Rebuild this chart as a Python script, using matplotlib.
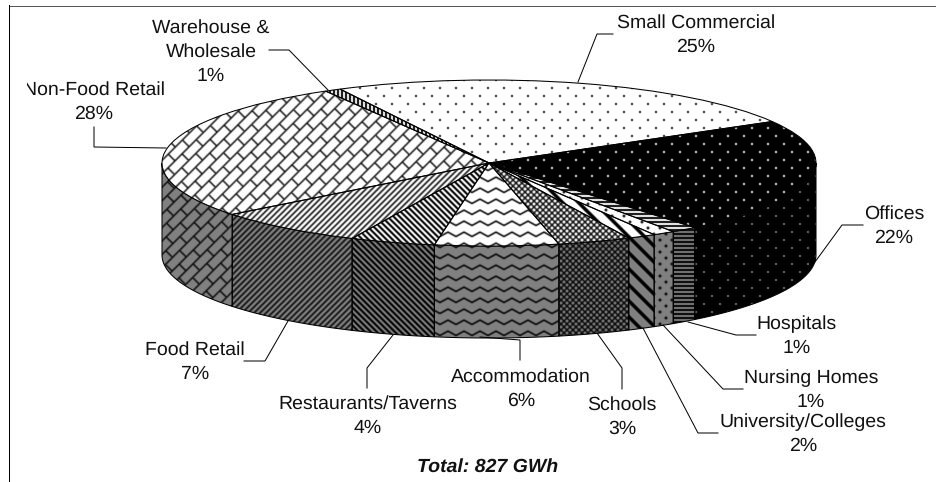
import numpy as np
import matplotlib
matplotlib.use('Agg')
import matplotlib.pyplot as plt
from matplotlib.patches import Polygon
from matplotlib.transforms import Affine2D, Bbox, TransformedBbox

categories = ['Small Commercial', 'Offices', 'Hospitals', 'Nursing Homes', 'University/Colleges',
              'Schools', 'Accommodation', 'Restaurants/Taverns', 'Food Retail', 'Non-Food Retail',
              'Warehouse &\nWholesale']
label_pct = [25, 22, 1, 1, 2, 3, 6, 4, 7, 28, 1]
# slice sizes as they are drawn in the picture (the 3d view squeezes them a bit)
drawn_pct = [24.2, 22.5, 1.3, 1.1, 1.4, 3.6, 6.1, 4.2, 7.5, 27.3, 0.8]
total_text = 'Total: 827 GWh'

W, H = 937, 482
CX, CY, RX, RY, DEPTH = 489, H - 163, 327, 83, 92

plt.rcParams['font.family'] = ['Liberation Sans', 'DejaVu Sans']
plt.rcParams['text.hinting'] = 'none'

fig = plt.figure(figsize=(W / 100, H / 100), dpi=100)
ax = fig.add_axes([0, 0, 1, 1])

xx, yy = np.meshgrid(np.arange(W) + 0.5, np.arange(H) + 0.5)


def stripes(u, period, width):
    d = np.abs((u % period) - period / 2)
    return np.clip(width / 2 - d + 0.5, 0, 1)


def dots(period, r):
    d1 = np.hypot((xx % period) - period / 2, (yy % period) - period / 2)
    d2 = np.hypot(((xx + period / 2) % period) - period / 2, ((yy + period / 2) % period) - period / 2)
    return np.clip(r - np.minimum(d1, d2) + 0.5, 0, 1)


def bricks(pv, pu):
    u = (xx - yy) / np.sqrt(2)
    v = (xx + yy) / np.sqrt(2)
    row = np.floor(v / pv)
    long_lines = stripes(v + pv / 2, pv, 1.4)
    short_lines = stripes(u + row * pu / 2, pu, 1.4)
    return np.maximum(long_lines, short_lines)


def wave(period, spacing, amp, width):
    tri = np.abs((xx % period) / period * 2 - 1) * amp * 2
    return stripes(yy + tri, spacing, width)


def soften(tex):
    # the reference is a slightly resampled bitmap, so nothing in it is crisp
    out = tex * 0.5
    for axis in (0, 1):
        out = out + 0.125 * (np.roll(tex, 1, axis) + np.roll(tex, -1, axis))
    return out


textures = [
    dots(16, 1.1),
    dots(16, 1.1),
    stripes(yy, 4, 2),
    dots(12, 1.4),
    stripes(xx - yy, 16, 5),
    np.maximum(stripes(xx + yy, 6, 2), stripes(xx - yy, 6, 2)),
    wave(16, 11, 2.2, 1.8),
    stripes(xx - yy, 6, 3),
    stripes(xx + yy, 6, 2.2),
    bricks(9.5, 20),
    stripes(xx, 4, 2),
]
textures = [soften(t) for t in textures]


def shade(tex, bg, ink):
    return np.clip(bg + (ink - bg) * tex, 0, 1)


# pie on a unit circle, squashed afterwards into the tilted ellipse
wedges, _ = ax.pie(drawn_pct, startangle=117.1, counterclock=False, radius=1)
squash = Affine2D().scale(RX, RY).translate(CX, CY) + ax.transData

for i, w in enumerate(wedges):
    top_bg, top_ink = (0.0, 1.0) if i == 1 else (1.0, 0.0)
    side_bg, side_ink = (0.0, 0.5) if i == 1 else (0.5, 0.0)

    # side wall, only the part on the front half of the ellipse
    for k in (-1, 0, 1):
        lo = max(w.theta1 + 360 * k, 180)
        hi = min(w.theta2 + 360 * k, 360)
        if hi <= lo:
            continue
        t = np.radians(np.linspace(lo, hi, 60))
        ex = CX + RX * np.cos(t)
        ey = CY + RY * np.sin(t)
        pts = np.r_[np.c_[ex, ey], np.c_[ex[::-1], ey[::-1] - DEPTH]]
        wall = Polygon(pts, closed=True, fc='none', ec='black', lw=0.75, zorder=4)
        ax.add_patch(wall)
        im = ax.imshow(shade(textures[i], side_bg, side_ink), cmap='gray', vmin=0, vmax=1,
                       extent=(0, W, 0, H), origin='upper', aspect='auto', zorder=3,
                       interpolation='nearest')
        im.set_clip_path(wall)

    # top face
    w.set_transform(squash)
    w.set_facecolor('none')
    w.set_edgecolor('black')
    w.set_linewidth(0.75)
    w.set_zorder(6)
    im = ax.imshow(shade(textures[i], top_bg, top_ink), cmap='gray', vmin=0, vmax=1,
                   extent=(0, W, 0, H), origin='upper', aspect='auto', zorder=5,
                   interpolation='nearest')
    im.set_clip_path(w.get_path(), w.get_transform())

ax.set_aspect('auto')
ax.set_xlim(0, W)
ax.set_ylim(0, H)
ax.axis('off')

# label centres and leader lines, in picture pixels from the top left
label_xy = [(696, 35), (894, 226), (797, 336), (811, 390), (803, 434), (622, 417),
            (521, 389), (368, 416), (195, 362), (94, 102), (211, 52)]
leaders = [
    [(613, 34), (597, 34), (578, 82)],
    [(863, 225), (842, 225), (815, 262)],
    [(756, 335), (736, 335), (688, 322)],
    [(743, 389), (723, 389), (663, 325)],
    [(718, 433), (698, 433), (643, 328)],
    [(622, 389), (622, 368), (597, 333)],
    [(520, 360), (520, 340), (480, 337)],
    [(367, 388), (367, 368), (393, 335)],
    [(244, 361), (265, 361), (288, 321)],
    [(94, 127), (94, 147), (166, 148)],
    [(269, 50), (289, 50), (328, 90)],
]

for name, pct, (tx, ty), line in zip(categories, label_pct, label_xy, leaders):
    label = ax.text(tx, H - ty, f'{name}\n{pct}%', ha='center', va='center', fontsize=14,
                    color='#111111', linespacing=1.43, zorder=8)
    # the N of Non-Food Retail is cut off on the left in the original chart
    label.set_clip_box(TransformedBbox(Bbox([[27, 0], [W, H]]), ax.transData))
    label.set_clip_on(True)
    lx, ly = zip(*line)
    ax.plot(lx, [H - y for y in ly], color='black', lw=0.72, zorder=7, solid_joinstyle='miter')

ax.text(488, H - 467, total_text, ha='center', va='center', fontsize=14,
        fontweight='bold', fontstyle='italic', color='#111111', zorder=8)

# frame: only the top and the left edge show in the picture
ax.plot([9, W], [H - 5.5, H - 5.5], color='#555555', lw=0.72, zorder=9)
ax.plot([9.5, 9.5], [H - 5, 0], color='black', lw=0.72, zorder=9)

fig.savefig('out.png', dpi=100)
